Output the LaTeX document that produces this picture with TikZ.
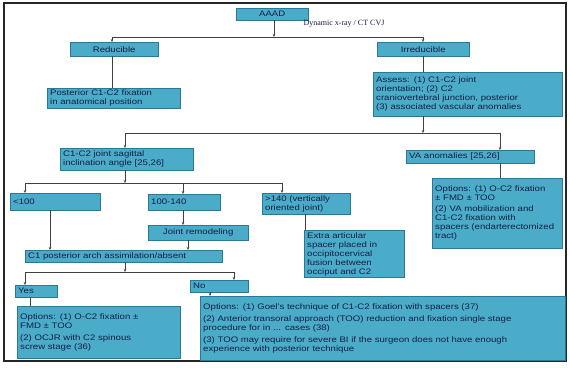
\documentclass[tikz,border=0pt]{standalone}
\usepackage{fontspec}
\setmainfont[FakeStretch=1.2]{Liberation Sans}
\newfontfamily\serifdyn{Liberation Serif}
\usetikzlibrary{arrows.meta,calc}
\definecolor{boxc}{RGB}{74,172,200}
\definecolor{boxd}{RGB}{40,120,150}
\definecolor{txtc}{RGB}{20,30,70}
\begin{document}
\begin{tikzpicture}[x=1pt,y=-1pt,
  bx/.style={draw=boxd,line width=0.4pt,fill=boxc,anchor=north west,inner xsep=3pt,inner ysep=2pt,
    font=\fontsize{8}{9}\selectfont,text=txtc,align=left},
  ln/.style={draw=black!75,line width=0.6pt},
  ar/.style={ln,-{Stealth[length=3pt,width=2.5pt]}}]
\useasboundingbox (0,0) rectangle (570,367);
\fill[white] (0,0) rectangle (570,367);
\draw[black!85,line width=2.5pt] (4,3) rectangle (566,361);
% top
\node[bx,minimum width=72pt,minimum height=12pt,align=center] (top) at (236,8) {AAAD};
\node[anchor=west,font=\serifdyn\fontsize{8}{8}\selectfont,text=txtc] (dyn) at (300,24) {Dynamic x-ray / CT CVJ};
\node[bx,minimum width=88pt,minimum height=14pt,align=center] (red) at (70,42) {Reducible};
\node[bx,minimum width=92pt,minimum height=14pt,align=center] (irr) at (377,42) {Irreducible};
\node[bx,text width=127pt,minimum height=19pt] (post) at (47,88) {Posterior C1-C2 fixation\\ in anatomical position};
\node[bx,text width=183pt,minimum height=44pt] (assess) at (373,72) {Assess: (1) C1-C2 joint\\ orientation; (2) C2\\ craniovertebral junction, posterior\\ (3) associated vascular anomalies};
\coordinate (t1) at (274,37);
\coordinate (tl) at (112,37);
\coordinate (tr) at (423,37);
\draw[ar] (top.south -| t1) -- (t1);
\draw[ln] (tl) -- (tr);
\draw[ar] (tl) -- (tl |- red.north);
\draw[ar] (tr) -- (tr |- irr.north);
\draw[ln] (red.south -| tl) -- (tl |- post.north);
\draw[ln] (irr.south -| tr) -- (tr |- assess.north);
% second level
\node[bx,text width=127pt,minimum height=22pt] (sag) at (60,148) {C1-C2 joint sagittal\\ inclination angle [25,26]};
\node[bx,text width=122pt,minimum height=13pt] (va) at (406,150) {VA anomalies [25,26]};
\node[bx,text width=124pt,minimum height=70pt] (opt1) at (432,178) {Options: (1) O-C2 fixation\\ ± FMD ± TOO\\[2pt](2) VA mobilization and\\ C1-C2 fixation with\\ spacers (endarterectomized\\ tract)};
\coordinate (a1) at (423,133);
\coordinate (al) at (125,133);
\coordinate (ar1) at (500,133);
\draw[ar] (assess.south -| a1) -- (a1);
\draw[ln] (al) -- (ar1);
\draw[ar] (al) -- (al |- sag.north);
\draw[ar] (ar1) -- (ar1 |- va.north);
\draw[ln] (va.south -| ar1) -- (ar1 |- opt1.north);
% third level
\node[bx,text width=84pt,minimum height=17pt] (lt) at (10,193) {<100};
\node[bx,text width=66pt,minimum height=16pt] (mid) at (148,194) {100-140};
\node[bx,text width=82pt,minimum height=21pt] (gt) at (262,193) {>140 (vertically\\ oriented joint)};
\node[bx,minimum width=100pt,minimum height=15pt,align=center] (rem) at (148,225) {Joint remodeling};
\node[bx,text width=94pt,minimum height=38pt] (extra) at (304,230) {Extra articular\\ spacer placed in\\ occipitocervical\\ fusion between\\ occiput and C2};
\coordinate (s1) at (125,183);
\coordinate (sl) at (25,183);
\coordinate (sm) at (183,183);
\coordinate (sr) at (282,183);
\draw[ar] (sag.south -| s1) -- (s1);
\draw[ln] (sl) -- (sr);
\draw[ar] (sl) -- (sl |- lt.north);
\draw[ar] (sm) -- (sm |- mid.north);
\draw[ar] (sr) -- (sr |- gt.north);
\draw[ar] (mid.south -| sm) -- (sm |- rem.north);
\coordinate (gx) at (305,0);
\draw[ln] (gt.south -| gx) -- (gx |- extra.north);
% C1 posterior arch
\node[bx,text width=191pt,minimum height=12pt] (c1) at (25,250) {C1 posterior arch assimilation/absent};
\coordinate (lx) at (50,0);
\coordinate (rx) at (188,0);
\draw[ar] (lt.south -| lx) -- (lx |- c1.north);
\draw[ar] (rem.south -| rx) -- (rx |- c1.north);
\coordinate (c1a) at (125,272);
\coordinate (yl) at (25,272);
\coordinate (nr) at (234,272);
\draw[ar] (c1.south -| c1a) -- (c1a);
\draw[ln] (yl) -- (nr);
\node[bx,text width=36pt,minimum height=12pt] (yes) at (15,285) {Yes};
\node[bx,text width=52pt,minimum height=12pt] (no) at (190,280) {No};
\draw[ar] (yl) -- (yl |- yes.north);
\draw[ar] (nr) -- (nr |- no.north);
\node[bx,text width=157pt,minimum height=52pt] (yopt) at (17,306) {Options: (1) O-C2 fixation ±\\ FMD ± TOO\\[3pt](2) OCJR with C2 spinous\\ screw stage (36)};
\node[bx,text width=359pt,minimum height=64pt] (nopt) at (200,296) {Options: (1) Goel's technique of C1-C2 fixation with spacers (37)\\[3pt](2) Anterior transoral approach (TOO) reduction and fixation single stage\\ procedure for in ... cases (38)\\[3pt](3) TOO may require for severe BI if the surgeon does not have enough\\ experience with posterior technique};
\coordinate (yx) at (30,0);
\coordinate (nx) at (210,0);
\draw[ln] (yes.south -| yx) -- (yx |- yopt.north);
\draw[ar] (no.south -| nx) -- (nx |- nopt.north);
\end{tikzpicture}
\end{document}
